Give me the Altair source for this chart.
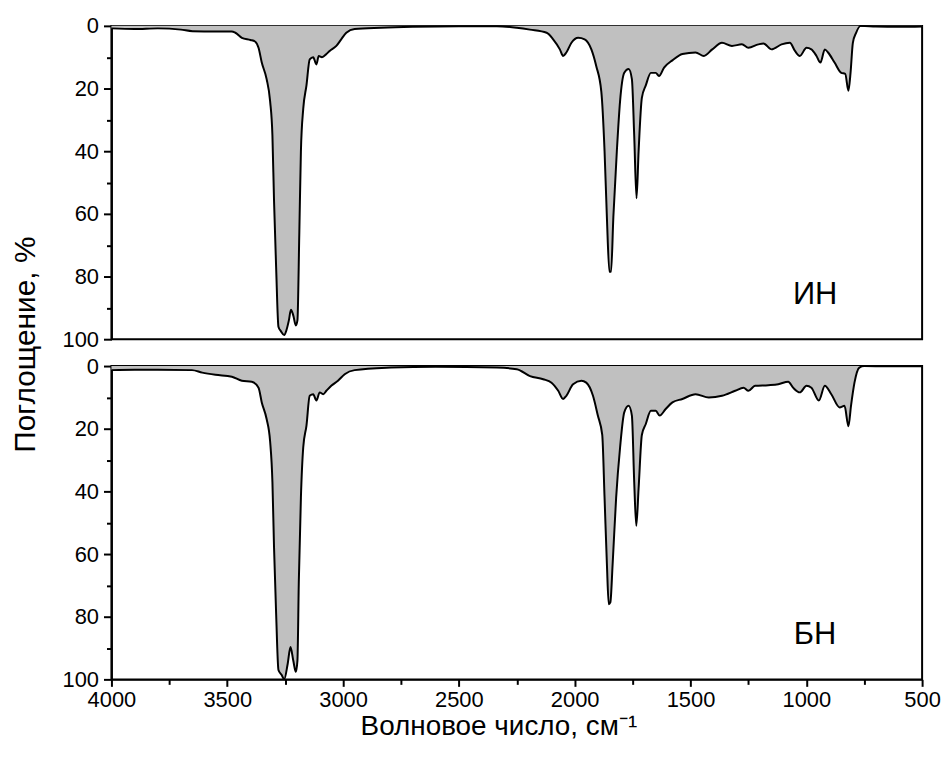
import altair as alt
import pandas as pd

# ИН spectrum (wavenumber, cm-1 ; absorption, %)
wn_in = [4000, 3900, 3800, 3700, 3650, 3550, 3481, 3465, 3437, 3400, 3380, 3365, 3351, 3330, 3315,
         3305, 3298, 3289, 3279, 3268, 3254, 3244, 3234, 3225, 3215, 3204, 3197, 3189, 3182, 3172,
         3158, 3144, 3129, 3115, 3105, 3091, 3072, 3058, 3029, 3008, 2986, 2950, 2836, 2700, 2500,
         2336, 2250, 2193, 2121, 2093, 2064, 2050, 2036, 2014, 1985, 1957, 1928, 1907, 1885, 1871,
         1861, 1850, 1843, 1833, 1818, 1804, 1786, 1767, 1753, 1743, 1733, 1724, 1710, 1693, 1671,
         1650, 1636, 1614, 1578, 1535, 1478, 1442, 1406, 1364, 1321, 1278, 1250, 1207, 1185, 1150,
         1107, 1071, 1049, 1028, 999, 978, 956, 939, 920, 906, 878, 849, 832, 818, 809,
         799, 785, 766, 700, 600, 500]
abs_in = [0.8, 1.0, 0.8, 1.2, 1.7, 1.8, 1.8, 2.2, 3.8, 4.5, 5.0, 7.0, 11.7, 17, 24,
          35, 56, 77, 96, 97.5, 98.7, 97, 94, 90.6, 92.4, 95.6, 94, 66.5, 40, 26.5,
          19, 10.7, 10, 12.3, 9.6, 10, 9, 8, 6.4, 4.3, 2.2, 1.0, 0.6, 0.3, 0.1,
          0.1, 0.6, 1.2, 2.2, 4.3, 7.5, 9.6, 8.5, 5.4, 3.8, 4.3, 7.5, 12.8, 21, 40,
          61, 78.5, 78.5, 61, 40, 24, 15, 13.8, 17, 35, 55, 40, 23, 19, 15,
          15, 16, 13.3, 11, 9, 8.5, 9.6, 7.5, 5.4, 6.4, 5.9, 7, 5.9, 5.6, 7.5,
          5.9, 5.4, 8, 9.6, 7, 7.5, 9.6, 11.7, 7.5, 8.5, 11.7, 15, 15.3, 20.7, 15,
          5.4, 2.2, 0, 0.2, 0.3, 0.2]

# БН spectrum
wn_bn = [4000, 3900, 3800, 3652, 3608, 3551, 3480, 3437, 3394, 3365, 3351, 3330, 3315, 3305, 3298,
         3289, 3279, 3265, 3254, 3239, 3227, 3215, 3204, 3197, 3191, 3182, 3172, 3158, 3144, 3129,
         3115, 3101, 3086, 3072, 3051, 3022, 2993, 2950, 2793, 2600, 2336, 2250, 2193, 2136, 2100,
         2071, 2050, 2036, 2007, 1971, 1950, 1921, 1900, 1881, 1871, 1861, 1853, 1846, 1836, 1821,
         1804, 1786, 1767, 1753, 1743, 1734, 1724, 1710, 1693, 1671, 1650, 1633, 1607, 1578, 1535,
         1478, 1421, 1364, 1307, 1271, 1250, 1221, 1164, 1121, 1078, 1057, 1028, 999, 978, 946,
         920, 892, 856, 835, 818, 807, 792, 771, 750, 650, 500]
abs_bn = [1.3, 1.2, 1.2, 1.3, 2.1, 2.8, 3.4, 4.7, 5.0, 6.9, 11.6, 16.9, 24, 37, 58,
          79, 97, 98.6, 100, 95, 89.7, 94, 97.6, 94, 68.6, 42, 26, 19, 9.5, 9,
          11, 8.4, 9, 7.9, 6.3, 4.7, 2.6, 1.3, 0.5, 0.2, 0.5, 1.0, 3.2, 4.2, 5.3,
          7.9, 10.5, 9.5, 5.8, 4.7, 5.3, 9.5, 15.8, 22, 42, 63, 76, 75.4, 63, 42,
          26, 14.8, 12.7, 15.8, 37, 51, 39, 22, 18.5, 14.3, 14.3, 15.8, 13.7, 11.6, 10.5,
          9, 10, 9.5, 7.9, 6.9, 7.9, 6.3, 6.1, 5.8, 5.0, 6.9, 8.4, 6.3, 6.9, 11,
          6.3, 9, 13.2, 12.7, 19.2, 12.7, 5.3, 0.5, -0.2, 0.1, 0.1]

panel_labels = ["ИН", "БН"]
x_major = list(range(500, 4001, 500))
x_minor = list(range(750, 4000, 500))
y_major = list(range(0, 101, 20))
y_minor = list(range(10, 100, 20))

FONT = "Liberation Sans"
W, H = 815, 315


def xscale():
    return alt.Scale(domain=[500, 4000], reverse=True, nice=False)


def yscale():
    return alt.Scale(domain=[0, 100], reverse=True, nice=False, clamp=True)


def panel(wn, ab, label, show_x, y_title):
    df = pd.DataFrame({"wn": wn, "a": ab})
    if show_x:
        x_axis = alt.Axis(values=x_major, format="d", title="Волновое число, см⁻¹",
                          labelFlush=False, grid=False, tickSize=7, labelPadding=3,
                          titlePadding=2, titleX=389, titleAlign="center", titleFontSize=28)
        xenc = alt.X("wn:Q", scale=xscale(), axis=x_axis)
        xenc_m = alt.X("wn:Q", scale=xscale(),
                       axis=alt.Axis(values=x_minor, labels=False, domain=False, grid=False,
                                     tickSize=5, title="", orient="bottom", titlePadding=0))
    else:
        xenc = alt.X("wn:Q", scale=xscale(), axis=None)
        xenc_m = alt.X("wn:Q", scale=xscale(), axis=None)
    yaxis_kwargs = dict(values=y_major, format="d", grid=False, tickSize=8, labelPadding=5)
    if y_title:
        yaxis_kwargs.update(title=y_title, titleX=-86, titleY=320, titleAngle=270,
                            titleBaseline="middle", titleAlign="center")
    else:
        yaxis_kwargs.update(title="")
    yenc = alt.Y("a:Q", scale=yscale(), axis=alt.Axis(**yaxis_kwargs))
    yenc_m = alt.Y("a:Q", scale=yscale(),
                   axis=alt.Axis(values=y_minor, labels=False, domain=False, grid=False,
                                 tickSize=5, title="", orient="left", titlePadding=0))
    base = alt.Chart(df)
    area = base.mark_area(color="#c0c0c0", opacity=1, interpolate="monotone").encode(
        x=xenc, y=yenc, y2=alt.datum(0))
    line = base.mark_line(color="black", strokeWidth=2, interpolate="monotone").encode(
        x=alt.X("wn:Q"), y=alt.Y("a:Q"))
    txt = alt.Chart(pd.DataFrame({"t": [label]})).mark_text(
        font=FONT, fontSize=31, color="black", align="center", baseline="middle").encode(
        x=alt.datum(962), y=alt.datum(86), text="t:N")
    main = alt.layer(area, line, txt)
    minor = base.mark_line(opacity=0).encode(x=xenc_m, y=yenc_m)
    return alt.layer(main, minor).resolve_axis(
        x="independent", y="independent").properties(width=W, height=H)


top = panel(wn_in, abs_in, panel_labels[0], False, "Поглощение, %")
bottom = panel(wn_bn, abs_bn, panel_labels[1], True, None)

chart = alt.vconcat(top, bottom, spacing=27, bounds="flush").properties(
    background="white",
    padding={"left": 2, "top": 4, "right": 0, "bottom": 0},
).configure_view(
    stroke="black", strokeWidth=2
).configure_axis(
    domainColor="black", domainWidth=2, tickColor="black", tickWidth=2,
    labelFont=FONT, labelFontSize=22, labelColor="black",
    titleFont=FONT, titleFontSize=30, titleColor="black", titleFontWeight="normal"
)

chart.save("out.html", embed_options={"renderer": "svg", "actions": False})
